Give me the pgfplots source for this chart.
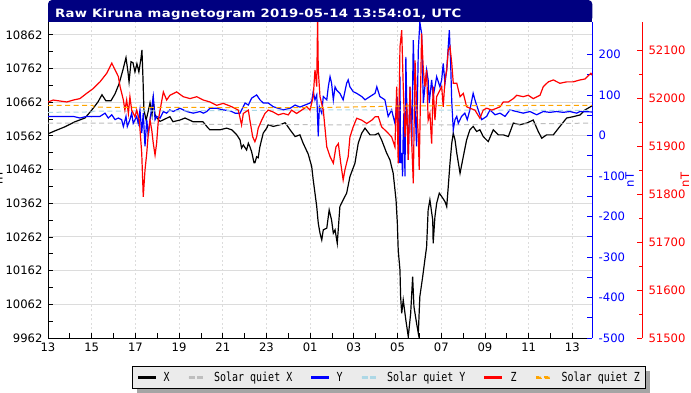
\documentclass[border=0pt]{standalone}
\usepackage{fontspec}
\setmainfont{DejaVu Sans}
\newfontfamily\legfont{DejaVu Sans Mono}
\newfontfamily\titlefont[FakeStretch=1.15, LetterSpace=2.8]{DejaVu Sans}
\usepackage{graphicx}
\usepackage{pgfplots}
\pgfplotsset{compat=1.18}
\definecolor{navybar}{RGB}{0,0,128}
\definecolor{sqx}{RGB}{190,190,190}
\definecolor{sqy}{RGB}{173,216,230}
\definecolor{sqz}{RGB}{255,165,0}
\definecolor{gridc}{RGB}{220,220,220}
\definecolor{legbg}{RGB}{235,235,235}
\definecolor{shadowc}{RGB}{165,165,165}
\newcommand{\lt}[1]{\scalebox{1}[1.25]{#1}}
\newcommand{\solidimg}[1]{\fill[#1] (0pt,-0.9pt) rectangle (16.5pt,0.9pt);}
\newcommand{\dashimg}[1]{\fill[#1] (0pt,-0.9pt) rectangle (5pt,0.9pt) (8.5pt,-0.9pt) rectangle (13.5pt,0.9pt); \path (16.5pt,0pt);}
\begin{document}
\begin{tikzpicture}
\useasboundingbox (0,0) rectangle (691pt,392pt);
\fill[white] (0,0) rectangle (691pt,392pt);
\pgfplotsset{
  common/.style={
    scale only axis, width=544pt, height=316pt, at={(48pt,54pt)}, anchor=south west,
    xmin=13, xmax=37.9,
    tick align=inside,
    major tick length=5pt, minor tick length=5pt,
    tick label style={font=\fontsize{11.6}{13}\selectfont, inner sep=0pt},
    scaled y ticks=false,
  },
}
% ---------------- X component (left axis) ----------------
\begin{axis}[common,
  axis x line*=bottom, axis y line*=left,
  axis line style={black, line width=1pt},
  ymin=9962, ymax=10900,
  ytick={9962,10062,...,10862},
  yticklabels={9962,10062,10162,10262,10362,10462,10562,10662,10762,10862},
  minor y tick num=1,
  xtick={13,15,...,37},
  xticklabels={13,15,17,19,21,23,01,03,05,07,09,11,13},
  minor x tick num=1,
  xmajorgrids, ymajorgrids,
  x grid style={gridc, dash pattern=on 2pt off 2.5pt, line width=0.8pt},
  y grid style={gridc, line width=0.9pt},
  yticklabel style={xshift=-5.3pt},
  xticklabel style={yshift=-4.5pt},
  tick style={black, line width=0.8pt},
]
\addplot[draw=black, line width=1.2pt] coordinates {
(13.00,10568)(13.32,10577)(13.78,10589)(14.24,10604)(14.69,10615)(15.01,10639)(15.29,10663)(15.47,10684)(15.65,10666)(15.88,10666)(16.07,10687)(16.25,10716)(16.43,10758)(16.57,10794)(16.66,10752)(16.71,10722)(16.80,10782)(16.89,10779)(16.98,10752)(17.07,10776)(17.16,10752)(17.26,10794)(17.30,10817)(17.35,10728)(17.39,10639)(17.49,10609)(17.58,10633)(17.67,10660)(17.76,10624)(17.81,10669)(17.90,10624)(17.99,10615)(18.13,10605)(18.58,10619)(18.72,10604)(19.04,10609)(19.27,10615)(19.64,10604)(20.09,10604)(20.32,10586)(20.41,10580)(20.87,10580)(21.18,10585)(21.41,10580)(21.64,10565)(21.79,10550)(21.86,10526)(21.94,10535)(22.09,10520)(22.17,10540)(22.24,10530)(22.32,10515)(22.40,10491)(22.43,10482)(22.47,10482)(22.55,10500)(22.62,10497)(22.70,10530)(22.85,10570)(23.01,10585)(23.08,10595)(23.31,10590)(23.62,10595)(23.85,10601)(23.92,10595)(24.08,10580)(24.31,10560)(24.53,10565)(24.68,10540)(24.91,10508)(25.07,10471)(25.14,10431)(25.22,10392)(25.30,10352)(25.37,10303)(25.45,10273)(25.53,10253)(25.60,10283)(25.76,10288)(25.87,10342)(25.98,10312)(26.06,10273)(26.14,10283)(26.24,10243)(26.36,10352)(26.51,10372)(26.67,10392)(26.82,10441)(27.05,10481)(27.20,10540)(27.36,10570)(27.51,10585)(27.74,10565)(27.97,10565)(28.12,10570)(28.27,10550)(28.50,10511)(28.65,10491)(28.80,10451)(28.93,10372)(28.99,10303)(29.03,10223)(29.11,10164)(29.14,10085)(29.19,10035)(29.26,10075)(29.38,10015)(29.49,9966)(29.60,10035)(29.69,10144)(29.75,10055)(29.87,10006)(29.95,9976)(30.02,10085)(30.15,10144)(30.25,10194)(30.33,10233)(30.40,10342)(30.48,10372)(30.61,10312)(30.63,10243)(30.71,10322)(30.79,10362)(30.91,10392)(31.02,10382)(31.17,10367)(31.25,10352)(31.32,10411)(31.40,10481)(31.48,10540)(31.55,10570)(31.63,10550)(31.71,10511)(31.86,10451)(31.98,10491)(32.16,10550)(32.31,10580)(32.46,10590)(32.62,10575)(32.77,10580)(32.92,10560)(33.15,10545)(33.38,10580)(33.61,10565)(33.84,10565)(34.07,10560)(34.30,10600)(34.60,10595)(34.91,10600)(35.21,10609)(35.44,10575)(35.60,10555)(35.82,10565)(36.13,10565)(36.43,10590)(36.74,10615)(37.04,10619)(37.35,10624)(37.58,10639)(37.90,10651)
};
\addplot[draw=sqx, line width=1pt, dash pattern=on 5pt off 3.5pt] coordinates {
(13,10600)(18,10600)(18.05,10597)(25,10595)(32,10595)(37.9,10600)
};
\end{axis}
% ---------------- Y component (blue right axis) ----------------
\begin{axis}[common,
  hide x axis, axis y line*=right,
  y axis line style={blue, line width=1pt},
  ymin=-500, ymax=280,
  ytick={-500,-400,...,200},
  yticklabels={-500,-400,-300,-200,-100,0,100,200},
  minor y tick num=1,
  yticklabel style={blue, xshift=6.5pt},
  tick style={blue, line width=0.8pt},
]
\addplot[draw=blue, line width=1.2pt] coordinates {
(13.00,47)(13.40,47)(13.86,47)(14.16,47)(14.46,43)(14.77,47)(15.07,47)(15.38,47)(15.61,55)(15.76,43)(15.92,51)(16.07,39)(16.22,43)(16.37,39)(16.45,22)(16.57,47)(16.63,22)(16.75,39)(16.83,55)(16.90,30)(17.06,47)(17.13,30)(17.21,63)(17.29,6)(17.36,55)(17.44,-27)(17.52,39)(17.59,-2)(17.67,39)(17.82,96)(17.90,39)(17.97,47)(18.13,43)(18.28,59)(18.43,55)(18.58,63)(18.73,59)(19.04,67)(19.35,59)(19.65,55)(19.96,59)(20.11,55)(20.26,59)(20.41,67)(20.72,67)(21.02,63)(21.33,61)(21.56,55)(21.79,55)(22.02,80)(22.17,75)(22.32,92)(22.55,100)(22.70,88)(22.85,80)(23.08,80)(23.31,71)(23.54,67)(23.77,63)(24.08,67)(24.31,75)(24.53,70)(24.76,75)(24.99,80)(25.07,84)(25.14,108)(25.22,88)(25.30,100)(25.37,-2)(25.42,71)(25.53,55)(25.60,96)(25.76,88)(25.83,120)(25.91,145)(25.98,129)(26.06,88)(26.14,120)(26.21,112)(26.36,104)(26.51,88)(26.67,129)(26.74,137)(26.82,120)(26.97,108)(27.13,104)(27.36,96)(27.51,88)(27.74,96)(27.97,104)(28.05,120)(28.19,96)(28.42,88)(28.57,47)(28.73,63)(28.80,47)(28.88,30)(28.99,96)(29.03,39)(29.08,-68)(29.11,145)(29.14,-68)(29.19,-43)(29.23,-101)(29.26,14)(29.29,55)(29.34,-101)(29.38,194)(29.42,80)(29.49,-60)(29.57,120)(29.65,-27)(29.72,235)(29.80,71)(29.87,-27)(29.95,211)(30.02,280)(30.10,252)(30.18,80)(30.25,120)(30.33,162)(30.40,137)(30.45,80)(30.56,137)(30.63,96)(30.71,120)(30.79,145)(30.94,120)(31.02,137)(31.09,178)(31.17,129)(31.25,162)(31.37,260)(31.43,178)(31.48,84)(31.55,14)(31.63,39)(31.71,47)(31.78,30)(31.93,47)(32.08,55)(32.19,39)(32.31,63)(32.46,104)(32.54,88)(32.69,63)(32.85,39)(33.08,47)(33.23,63)(33.46,51)(33.69,55)(33.92,47)(34.14,63)(34.45,59)(34.75,55)(35.06,59)(35.37,51)(35.67,59)(35.97,57)(36.28,59)(36.58,57)(36.89,59)(37.20,55)(37.35,59)(37.90,58)
};
\addplot[draw=sqy, line width=1pt, dash pattern=on 5pt off 3.5pt] coordinates {
(13,57)(15,58)(15.1,60)(20,61)(25,63)(37.9,62)
};
\end{axis}
% ---------------- legend frame and shadow ----------------
\fill[shadowc] (137.2pt,-1pt) rectangle (649.8pt,21.3pt);
\filldraw[fill=legbg, draw=black, line width=1.1pt] (132.8pt,3.4pt) rectangle (645.4pt,25.7pt);
% ---------------- Z component (red offset axis) ----------------
\begin{axis}[common, width=594pt, xmax=40.188,
  hide x axis, axis y line*=right,
  y axis line style={red, line width=1pt},
  ymin=51500, ymax=52160,
  ytick={51500,51600,...,52100},
  yticklabels={51500,51600,51700,51800,51900,52000,52100},
  minor y tick num=1, minor tick length=3.3pt,
  yticklabel style={red, xshift=6.3pt},
  tick style={red, line width=0.8pt},
  legend style={
    at={(0.5742,-0.1248)}, anchor=center,
    legend columns=6,
    draw=none, fill=none,
    inner xsep=0pt, inner ysep=0pt,
    font=\legfont\fontsize{10}{12}\selectfont,
    nodes={inner sep=0pt},
    /tikz/every odd column/.append style={column sep=8.5pt},
    /tikz/every even column/.append style={column sep=19pt},
  },
]
\addlegendimage{legend image code/.code={\solidimg{black}}}
\addlegendentry{\lt{X}}
\addlegendimage{legend image code/.code={\dashimg{sqx}}}
\addlegendentry{\lt{Solar quiet X}}
\addlegendimage{legend image code/.code={\solidimg{blue}}}
\addlegendentry{\lt{Y}}
\addlegendimage{legend image code/.code={\dashimg{sqy}}}
\addlegendentry{\lt{Solar quiet Y}}
\addplot[draw=red, line width=1.2pt, legend image code/.code={\solidimg{red}}] coordinates {
(13.00,51993)(13.24,51997)(13.55,51995)(13.86,51993)(14.16,51997)(14.46,52000)(14.77,52011)(15.07,52021)(15.38,52035)(15.69,52053)(15.92,52074)(16.07,52060)(16.22,52046)(16.30,52025)(16.45,51997)(16.52,51976)(16.60,51997)(16.68,51969)(16.75,52004)(16.83,51976)(16.98,51962)(17.06,51976)(17.18,51955)(17.29,51886)(17.36,51795)(17.44,51851)(17.52,51886)(17.59,51927)(17.67,51955)(17.75,51934)(17.82,51906)(17.90,51882)(17.97,51906)(18.05,51955)(18.13,51976)(18.28,52014)(18.43,51997)(18.58,52007)(18.89,52014)(19.19,52004)(19.50,52000)(19.81,52004)(20.11,51997)(20.41,51993)(20.72,51986)(21.02,51990)(21.25,51986)(21.41,51983)(21.71,51976)(21.86,51945)(21.94,51969)(22.17,51976)(22.24,51955)(22.37,51920)(22.47,51910)(22.55,51920)(22.62,51938)(22.78,51955)(22.93,51969)(23.08,51976)(23.31,51972)(23.54,51966)(23.77,51969)(24.00,51966)(24.15,51976)(24.38,51969)(24.61,51976)(24.84,51983)(24.99,51976)(25.14,52004)(25.22,52060)(25.30,52025)(25.34,52170)(25.37,52060)(25.45,52004)(25.60,51976)(25.76,51899)(25.91,51879)(26.06,51865)(26.18,51899)(26.29,51906)(26.40,51865)(26.51,51830)(26.59,51851)(26.74,51879)(26.82,51920)(26.97,51941)(27.13,51959)(27.36,51955)(27.59,51948)(27.82,51955)(27.97,51962)(28.12,51962)(28.27,51941)(28.50,51931)(28.73,51920)(28.88,51899)(28.96,52025)(29.03,51865)(29.11,52108)(29.19,52143)(29.26,52025)(29.34,51920)(29.42,51990)(29.49,51872)(29.57,52025)(29.65,51906)(29.72,51823)(29.80,52080)(29.87,51990)(29.95,51920)(29.99,51851)(30.10,52136)(30.18,52060)(30.25,52025)(30.33,52060)(30.40,51955)(30.48,51969)(30.56,51906)(30.63,52025)(30.71,51955)(30.79,52004)(31.02,52025)(31.09,51983)(31.17,52039)(31.25,52060)(31.32,52101)(31.40,52108)(31.48,52074)(31.55,52032)(31.71,52032)(31.86,52004)(32.01,52011)(32.16,51983)(32.31,51980)(32.54,51976)(32.77,51959)(32.92,51976)(33.08,51980)(33.31,51976)(33.54,51980)(33.69,51983)(33.84,51993)(34.07,51993)(34.30,52000)(34.45,52007)(34.75,52004)(34.98,52007)(35.21,52000)(35.52,52007)(35.67,52025)(35.90,52035)(36.13,52039)(36.43,52032)(36.74,52035)(37.04,52035)(37.35,52039)(37.58,52041)(37.85,52053)(37.90,52049)
};
\addlegendentry{\lt{Z}}
\addplot[draw=sqz, line width=1pt, dash pattern=on 5pt off 3.5pt, legend image code/.code={\dashimg{sqz}}] coordinates {
(13,51986)(15.05,51986)(15.1,51982)(25,51981)(30,51985)(37.9,51986)
};
\addlegendentry{\lt{Solar quiet Z}}
\end{axis}
% ---------------- title bar and unit labels ----------------
\fill[navybar, rounded corners=4pt] (48pt,370pt) rectangle (592.3pt,392pt);
\fill[navybar] (48pt,370pt) rectangle (592.3pt,382pt);
\node[anchor=base west, inner sep=0pt, text=white, font=\titlefont\bfseries\fontsize{11.5}{13}\selectfont] at (55pt,374.3pt) {Raw Kiruna magnetogram 2019-05-14 13:54:01, UTC};
\node[rotate=90, anchor=base, inner sep=0pt, font=\fontsize{11.6}{13}\selectfont] at (2.7pt,214.5pt) {nT};
\node[rotate=90, inner sep=0pt, text=blue, font=\fontsize{11.6}{13}\selectfont] at (629.7pt,212pt) {nT};
\node[rotate=90, inner sep=0pt, text=red, font=\fontsize{11.6}{13}\selectfont] at (685pt,212pt) {nT};
\end{tikzpicture}
\end{document}
